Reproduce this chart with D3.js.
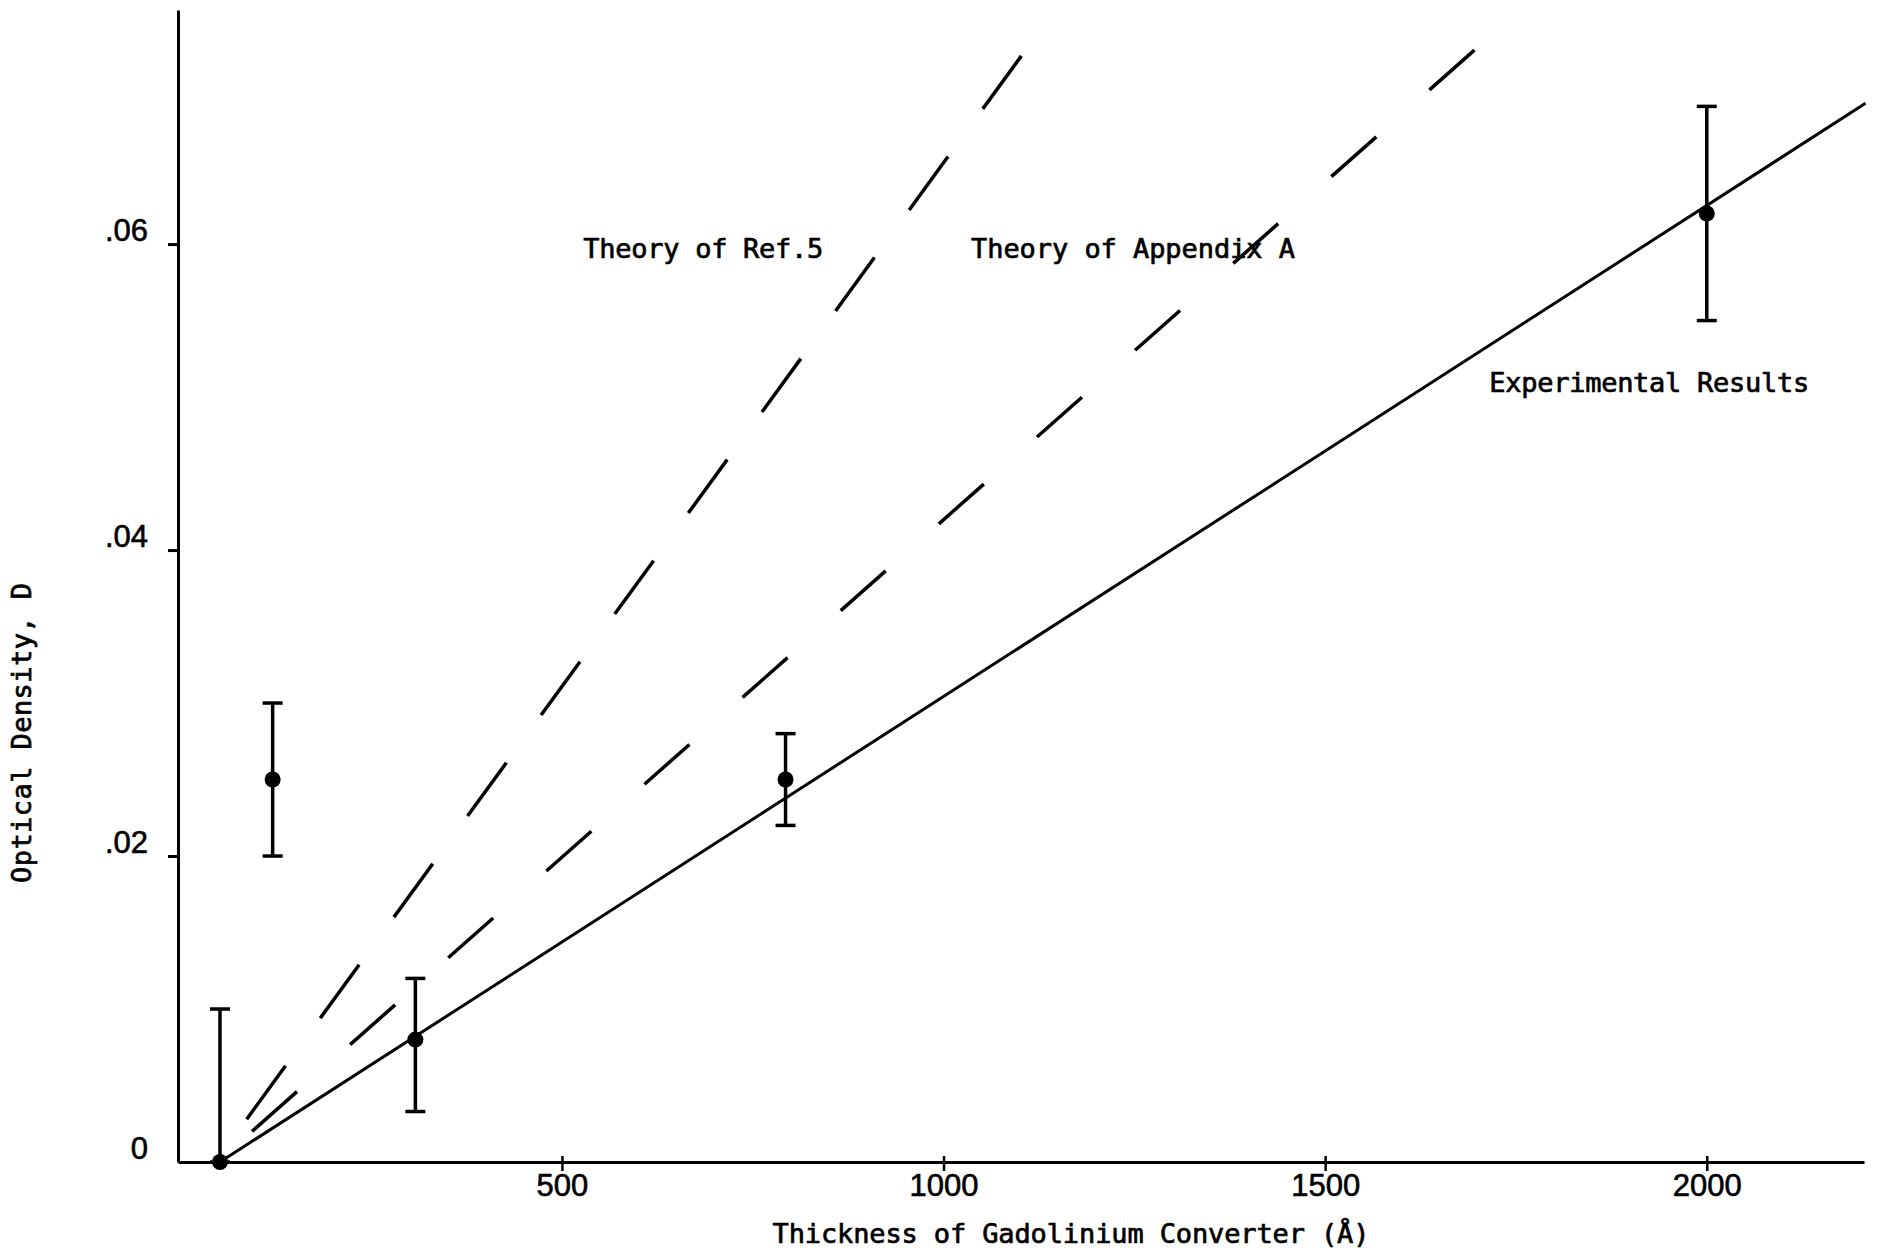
<!DOCTYPE html>
<html lang="en">
<head>
	<meta charset="UTF-8">
	<title>Optical Density vs Gadolinium Converter Thickness</title>
	<script src="https://cdn.jsdelivr.net/npm/d3@7/dist/d3.min.js"></script>
	<style>
		body {
			margin: 0;
			background: white;
		}
		.tick text {
			font-family: "Liberation Sans", Arial, sans-serif;
			font-size: 31px;
			fill: black;
			stroke: black;
			stroke-width: 0.6px;
		}
		.label {
			font-family: "DejaVu Sans Mono", monospace;
			font-size: 27px;
			fill: black;
			stroke: black;
			stroke-width: 0.7px;
		}
	</style>
</head>
<body>
	<div id="vis"></div>

	<script>
		var width = 1880;
		var height = 1257;

		// measured points (thickness in angstrom, optical density)
		var thickness = [52, 121, 308, 793, 2000];
		var density = [0, 0.025, 0.008, 0.025, 0.062];
		var errLow = [0, 0.020, 0.0033, 0.022, 0.055];
		var errHigh = [0.010, 0.030, 0.012, 0.028, 0.069];

		// straight lines: experimental fit and the two theories
		var fitX = [52, 2208];
		var fitY = [0, 0.0692];
		var ref5X = [87, 1102];
		var ref5Y = [0.0028, 0.0723];
		var appAX = [94, 1696];
		var appAY = [0.0020, 0.0727];

		// ticks
		var xTicks = [500, 1000, 1500, 2000];
		var xTickLabels = ["500", "1000", "1500", "2000"];
		var yTicks = [0, 0.02, 0.04, 0.06];
		var yTickLabels = ["0", ".02", ".04", ".06"];

		var svg = d3.select("#vis").append("svg")
				.attr("width", width)
				.attr("height", height);

		var x = d3.scaleLinear().domain([-3, 2206]).range([178, 1864]);
		var y = d3.scaleLinear().domain([0, 0.0753]).range([1162, 10]);

		// y axis
		var yAxis = d3.axisLeft(y)
				.tickValues(yTicks)
				.tickFormat(function(d, i) { return yTickLabels[i]; })
				.tickSizeInner(10)
				.tickSizeOuter(0)
				.tickPadding(20);

		var gy = svg.append("g")
				.attr("transform", "translate(" + x(-3) + ",0)")
				.call(yAxis);
		gy.select(".domain").attr("stroke", "black").attr("stroke-width", 3);
		gy.selectAll(".tick line").attr("stroke", "black").attr("stroke-width", 3);
		gy.selectAll(".tick text").attr("dy", "-0.1em");
		// the zero tick is hidden by the x axis
		gy.selectAll(".tick").filter(function(d) { return d === 0; })
				.select("line").remove();

		// x axis
		var xAxis = d3.axisBottom(x)
				.tickValues(xTicks)
				.tickFormat(function(d, i) { return xTickLabels[i]; })
				.tickSizeInner(9)
				.tickSizeOuter(0)
				.tickPadding(3);

		var gx = svg.append("g")
				.attr("transform", "translate(0," + y(0) + ")")
				.call(xAxis);
		gx.select(".domain").attr("stroke", "black").attr("stroke-width", 3);
		gx.selectAll(".tick line")
				.attr("y1", -6)
				.attr("stroke", "black")
				.attr("stroke-width", 2.5);

		var line = d3.line()
				.x(function(d) { return x(d[0]); })
				.y(function(d) { return y(d[1]); });

		// theory lines (dashed)
		svg.append("path")
				.datum(d3.zip(ref5X, ref5Y))
				.attr("d", line)
				.attr("fill", "none")
				.attr("stroke", "black")
				.attr("stroke-width", 3.5)
				.attr("stroke-dasharray", "66,59");

		svg.append("path")
				.datum(d3.zip(appAX, appAY))
				.attr("d", line)
				.attr("fill", "none")
				.attr("stroke", "black")
				.attr("stroke-width", 3.5)
				.attr("stroke-dasharray", "60,71");

		// experimental fit (solid)
		svg.append("path")
				.datum(d3.zip(fitX, fitY))
				.attr("d", line)
				.attr("fill", "none")
				.attr("stroke", "black")
				.attr("stroke-width", 3);

		// error bars
		var pts = thickness.map(function(t, i) {
			return {t: t, d: density[i], lo: errLow[i], hi: errHigh[i]};
		});

		var bars = svg.append("g").selectAll("g")
				.data(pts)
				.enter().append("g");

		bars.append("line")
				.attr("x1", function(d) { return x(d.t); })
				.attr("x2", function(d) { return x(d.t); })
				.attr("y1", function(d) { return y(d.lo); })
				.attr("y2", function(d) { return y(d.hi); })
				.attr("stroke", "black")
				.attr("stroke-width", 3.5);

		bars.append("line")
				.attr("x1", function(d) { return x(d.t) - 10; })
				.attr("x2", function(d) { return x(d.t) + 10; })
				.attr("y1", function(d) { return y(d.hi); })
				.attr("y2", function(d) { return y(d.hi); })
				.attr("stroke", "black")
				.attr("stroke-width", 3.5);

		bars.append("line")
				.attr("x1", function(d) { return x(d.t) - 10; })
				.attr("x2", function(d) { return x(d.t) + 10; })
				.attr("y1", function(d) { return y(d.lo); })
				.attr("y2", function(d) { return y(d.lo); })
				.attr("stroke", "black")
				.attr("stroke-width", 3.5);

		bars.append("circle")
				.attr("cx", function(d) { return x(d.t); })
				.attr("cy", function(d) { return y(d.d); })
				.attr("r", 8)
				.attr("fill", "black");

		// annotations
		svg.append("text")
				.attr("class", "label")
				.attr("x", x(528))
				.attr("y", y(0.0591))
				.attr("textLength", 240)
				.text("Theory of Ref.5");

		svg.append("text")
				.attr("class", "label")
				.attr("x", x(1036))
				.attr("y", y(0.0591))
				.attr("textLength", 324)
				.text("Theory of Appendix A");

		svg.append("text")
				.attr("class", "label")
				.attr("x", x(1715))
				.attr("y", y(0.0503))
				.attr("textLength", 320)
				.text("Experimental Results");

		// axis titles
		svg.append("text")
				.attr("class", "label")
				.attr("x", 1071)
				.attr("y", 1243)
				.attr("text-anchor", "middle")
				.attr("textLength", 597)
				.text("Thickness of Gadolinium Converter (Å)");

		svg.append("text")
				.attr("class", "label")
				.attr("transform", "translate(31,733) rotate(-90)")
				.attr("text-anchor", "middle")
				.attr("textLength", 300)
				.text("Optical Density, D");
	</script>
</body>
</html>
